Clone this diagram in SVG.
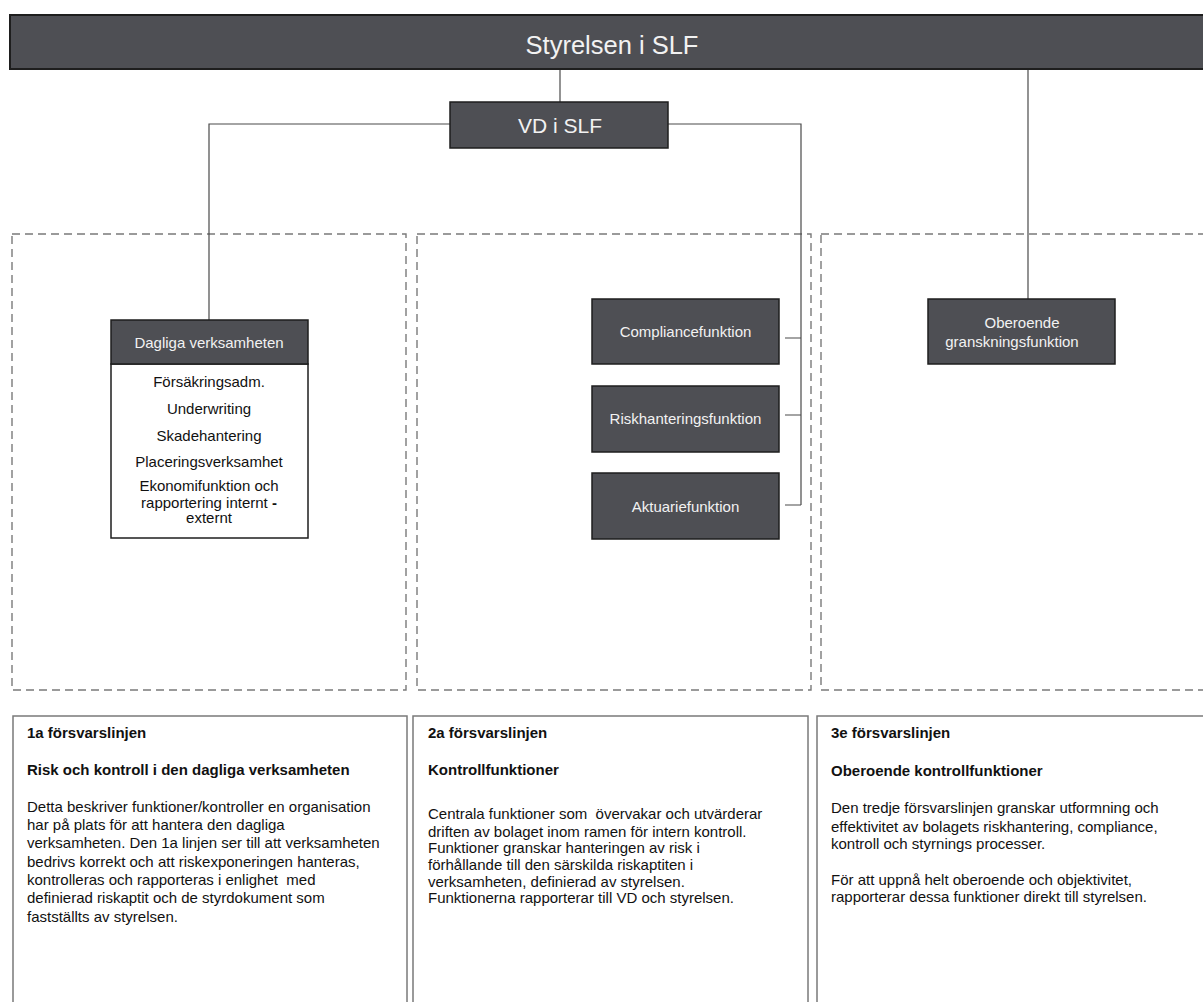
<svg xmlns="http://www.w3.org/2000/svg" width="1203" height="1002" viewBox="0 0 1203 1002">
<style>
.dark{fill:#4e4f54;stroke:#1e1e1e;stroke-width:1.5}
.wt{fill:#f2f2f2;font-family:"Liberation Sans",Arial,sans-serif;font-size:15px;text-anchor:middle}
.bt{fill:#111;font-family:"Liberation Sans",Arial,sans-serif;font-size:15px;text-anchor:middle}
.dash{fill:none;stroke:#7a7a7a;stroke-width:1.4;stroke-dasharray:8 5}
.tbox{fill:#fff;stroke:#7a7a7a;stroke-width:1.5}
.tx{fill:#111;font-family:"Liberation Sans",Arial,sans-serif;font-size:15px;white-space:pre}
.hd{font-weight:bold}
.conn{fill:none;stroke:#4a4a4a;stroke-width:1.2}
</style>
<rect width="1203" height="1002" fill="#fff"/>
<g id="frames">
<rect class="dash" x="12" y="234" width="394" height="456"/>
<rect class="dash" x="417" y="234" width="394" height="456"/>
<rect class="dash" x="821" y="234" width="400" height="456"/>
</g>
<g id="connectors">
<path class="conn" d="M560 69V102"/>
<path class="conn" d="M1028 69V299"/>
<path class="conn" d="M450 124H209V320"/>
<path class="conn" d="M668 124H801V505"/>
<path class="conn" d="M785 338H801M785 415H801M785 505H801"/>
</g>
<g id="styrelsen">
<rect x="10" y="15" width="1210" height="54" fill="#4e4f54" stroke="#1e1e1e" stroke-width="2"/>
<text x="612" y="54" class="wt" style="font-size:25.5px">Styrelsen i SLF</text>
</g>
<g id="vd">
<rect class="dark" x="450" y="102" width="218" height="46"/>
<text x="560" y="133" class="wt" style="font-size:21px">VD i SLF</text>
</g>
<g id="dagliga">
<rect x="111" y="364" width="197" height="174" fill="#fff" stroke="#1e1e1e" stroke-width="1.5"/>
<rect class="dark" x="111" y="320" width="197" height="44"/>
<text x="209" y="348" class="wt">Dagliga verksamheten</text>
<text x="209" y="387" class="bt">Försäkringsadm.</text>
<text x="209" y="414" class="bt">Underwriting</text>
<text x="209" y="441" class="bt">Skadehantering</text>
<text x="209" y="467" class="bt">Placeringsverksamhet</text>
<text x="209" y="491" class="bt">Ekonomifunktion och</text>
<text x="209" y="508" class="bt">rapportering internt <tspan font-weight="bold">-</tspan></text>
<text x="209" y="523" class="bt">externt</text>
</g>
<g id="compliance">
<rect class="dark" x="592" y="299" width="187" height="65"/>
<text x="685.5" y="337" class="wt">Compliancefunktion</text>
</g>
<g id="riskhantering">
<rect class="dark" x="592" y="386" width="187" height="66"/>
<text x="685.5" y="424" class="wt">Riskhanteringsfunktion</text>
</g>
<g id="aktuarie">
<rect class="dark" x="592" y="473" width="187" height="66"/>
<text x="685.5" y="512" class="wt">Aktuariefunktion</text>
</g>
<g id="oberoende">
<rect class="dark" x="928" y="299" width="187" height="65"/>
<text x="1022" y="328" class="wt">Oberoende</text>
<text x="1012" y="347" class="wt">granskningsfunktion</text>
</g>
<g id="linje1">
<rect class="tbox" x="13" y="716" width="394" height="300"/>
<text class="tx hd" x="27" y="738">1a försvarslinjen</text>
<text class="tx hd" x="27" y="775">Risk och kontroll i den dagliga verksamheten</text>
<text class="tx" x="27" y="812">Detta beskriver funktioner/kontroller en organisation</text>
<text class="tx" x="27" y="830">har på plats för att hantera den dagliga</text>
<text class="tx" x="27" y="848">verksamheten. Den 1a linjen ser till att verksamheten</text>
<text class="tx" x="27" y="867">bedrivs korrekt och att riskexponeringen hanteras,</text>
<text class="tx" x="27" y="885">kontrolleras och rapporteras i enlighet  med</text>
<text class="tx" x="27" y="903">definierad riskaptit och de styrdokument som</text>
<text class="tx" x="27" y="922">fastställts av styrelsen.</text>
</g>
<g id="linje2">
<rect class="tbox" x="413" y="716" width="395" height="300"/>
<text class="tx hd" x="428" y="738">2a försvarslinjen</text>
<text class="tx hd" x="428" y="775">Kontrollfunktioner</text>
<text class="tx" x="428" y="819">Centrala funktioner som  övervakar och utvärderar</text>
<text class="tx" x="428" y="837">driften av bolaget inom ramen för intern kontroll.</text>
<text class="tx" x="428" y="853">Funktioner granskar hanteringen av risk i</text>
<text class="tx" x="428" y="870">förhållande till den särskilda riskaptiten i</text>
<text class="tx" x="428" y="887">verksamheten, definierad av styrelsen.</text>
<text class="tx" x="428" y="903">Funktionerna rapporterar till VD och styrelsen.</text>
</g>
<g id="linje3">
<rect class="tbox" x="817" y="716" width="400" height="300"/>
<text class="tx hd" x="831" y="738">3e försvarslinjen</text>
<text class="tx hd" x="831" y="776">Oberoende kontrollfunktioner</text>
<text class="tx" x="831" y="813">Den tredje försvarslinjen granskar utformning och</text>
<text class="tx" x="831" y="832">effektivitet av bolagets riskhantering, compliance,</text>
<text class="tx" x="831" y="849">kontroll och styrnings processer.</text>
<text class="tx" x="831" y="885">För att uppnå helt oberoende och objektivitet,</text>
<text class="tx" x="831" y="902">rapporterar dessa funktioner direkt till styrelsen.</text>
</g>
</svg>
